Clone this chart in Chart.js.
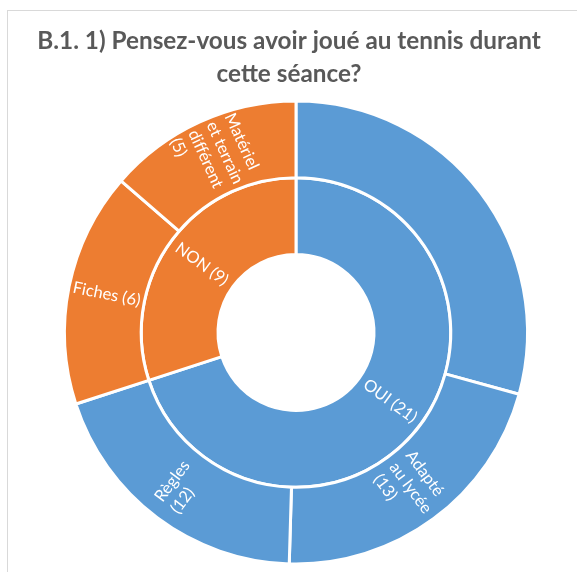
<!DOCTYPE html>
<html>
<head>
<meta charset="utf-8">
<script src="https://cdn.jsdelivr.net/npm/chart.js@4/dist/chart.umd.min.js"></script>
<style>
    html, body { margin: 0; padding: 0; background: #fff; }
    #frame { position: absolute; left: 7px; top: 10px; right: 0; bottom: 0; border-left: 1px solid #d9d9d9; border-top: 1px solid #d9d9d9; }
    #wrap { position: absolute; left: 0; top: 0; width: 577px; height: 572px; }
</style>
</head>
<body>
<div id="frame"></div>
<div id="wrap"><canvas id="sunburst"></canvas></div>
<script>
const titleLines = ["B.1. 1) Pensez-vous avoir joué au tennis durant", "cette séance?"];

// inner ring
const innerNames = ["OUI", "NON"];
const innerValues = [21, 9];

// outer ring, each item belongs to an inner category
const outerLines = [[], ["Adapté", "au lycée", "(13)"], ["Règles", "(12)"], ["Fiches (6)"], ["Matériel", "et terrain", "différent", "(5)"]];
const outerValues = [18, 13, 12, 6, 5];
const outerParent = [0, 0, 0, 1, 1];

const colors = ["#5b9bd5", "#ed7d31"];

// outer slices share their parent's angle
const parentSums = innerValues.map((v, i) => outerValues.reduce((s, x, j) => outerParent[j] === i ? s + x : s, 0));
const outerShares = outerValues.map((v, j) => v / parentSums[outerParent[j]] * innerValues[outerParent[j]]);

const sliceLabels = {
    id: "sliceLabels",
    afterDatasetsDraw(chart) {
        const ctx = chart.ctx;
        ctx.save();
        ctx.fillStyle = "#ffffff";
        ctx.font = "16.5px Lato";
        ctx.textAlign = "left";
        ctx.textBaseline = "middle";
        chart.data.datasets.forEach((ds, d) => {
            chart.getDatasetMeta(d).data.forEach((arc, i) => {
                const lines = ds.labelLines[i];
                if (!lines.length) return;
                const p = arc.getProps(["x", "y", "startAngle", "endAngle", "innerRadius", "outerRadius"], true);
                const a = (p.startAngle + p.endAngle) / 2;
                const r = (p.innerRadius + p.outerRadius) / 2;
                let rot = a;
                if (Math.cos(a) < 0) rot += Math.PI;
                const w = Math.max(...lines.map(t => ctx.measureText(t).width));
                const lh = 20;
                ctx.save();
                ctx.translate(p.x + Math.cos(a) * r, p.y + Math.sin(a) * r);
                ctx.rotate(rot);
                lines.forEach((t, k) => ctx.fillText(t, -w / 2, (k - (lines.length - 1) / 2) * lh));
                ctx.restore();
            });
        });
        ctx.restore();
    },
    afterDraw(chart) {
        const ctx = chart.ctx;
        ctx.save();
        ctx.fillStyle = "#595959";
        ctx.font = "bold 24.3px Lato";
        ctx.textAlign = "center";
        ctx.textBaseline = "alphabetic";
        ctx.fillText(titleLines[0], 289, 49);
        ctx.fillText(titleLines[1], 289, 81.5);
        ctx.restore();
    }
};

const canvas = document.getElementById("sunburst");
const chart = new Chart(canvas, {
    type: "doughnut",
    data: {
        labels: outerLines.map(l => l.join(" ")),
        datasets: [{
            data: outerShares,
            backgroundColor: outerParent.map(p => colors[p]),
            borderColor: "#ffffff",
            borderWidth: 3,
            labelLines: outerLines
        }, {
            data: innerValues,
            backgroundColor: colors,
            borderColor: "#ffffff",
            borderWidth: 3,
            labelLines: innerNames.map((n, i) => [n + " (" + innerValues[i] + ")"])
        }]
    },
    options: {
        responsive: true,
        maintainAspectRatio: false,
        animation: false,
        cutout: "33.7%",
        layout: {
            padding: { top: 99.5, bottom: 6.5, left: 15, right: 0 }
        },
        plugins: {
            legend: { display: false },
            tooltip: { enabled: false },
            title: { display: false }
        }
    },
    plugins: [sliceLabels]
});
</script>
</body>
</html>
